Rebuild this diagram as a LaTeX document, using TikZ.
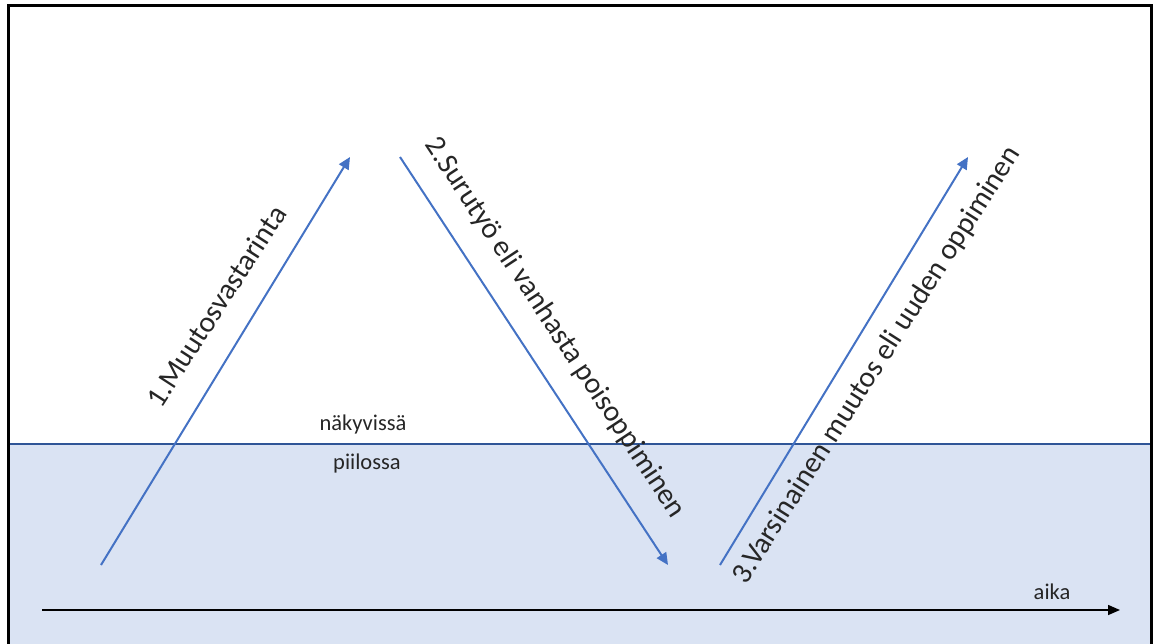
\documentclass[tikz,border=0pt]{standalone}
\usepackage{fontspec}
\setmainfont{Carlito}
\usetikzlibrary{arrows.meta}
\definecolor{arrblue}{HTML}{4472C4}
\definecolor{lineblue}{HTML}{2F5597}
\definecolor{hidfill}{HTML}{DAE3F3}
\definecolor{txt}{HTML}{262626}
\tikzset{
  phase/.style={draw=arrblue, line width=2pt, -{Triangle[length=12pt,width=11pt]}},
  biglabel/.style={font=\fontsize{29.5}{32}\selectfont, text=txt, inner sep=0pt},
  smalllabel/.style={font=\fontsize{22.5}{25}\selectfont, text=txt, inner sep=0pt}
}
\begin{document}
\begin{tikzpicture}[x=1pt,y=-1pt]
\useasboundingbox (0,0) rectangle (1155,644);
\clip (0,0) rectangle (1155,644);
\fill[hidfill] (8,444) rectangle (1151,660);
\draw[line width=3pt,black] (8,660) -- (8,6) -- (1151,6) -- (1151,660);
\coordinate (hl) at (9.5,444);
\coordinate (hr) at (1149.5,444);
\draw[lineblue, line width=2.5pt] (hl) -- (hr);
\coordinate (a1s) at (101,565);
\coordinate (a1e) at (350,157);
\coordinate (a2s) at (400,157);
\coordinate (a2e) at (668,565);
\coordinate (a3s) at (720,565);
\coordinate (a3e) at (968,157);
\draw[phase] (a1s) -- (a1e);
\draw[phase] (a2s) -- (a2e);
\draw[phase] (a3s) -- (a3e);
\coordinate (ts) at (42,610);
\coordinate (te) at (1120,610);
\draw[black, line width=1.5pt, -{Triangle[length=12pt,width=10pt]}] (ts) -- (te);
\node[biglabel, rotate=57] (l1) at (216,306) {1.Muutosvastarinta};
\node[biglabel, rotate=-56.5] (l2) at (555,328) {2.Surutyö eli vanhasta poisoppiminen};
\node[biglabel, rotate=57.5] (l3) at (877,365) {3.Varsinainen muutos eli uuden oppiminen};
\node[smalllabel] (vis) at (363,424) {näkyvissä};
\node[smalllabel] (hid) at (367,463) {piilossa};
\node[smalllabel] (aika) at (1052,592) {aika};
\end{tikzpicture}
\end{document}
